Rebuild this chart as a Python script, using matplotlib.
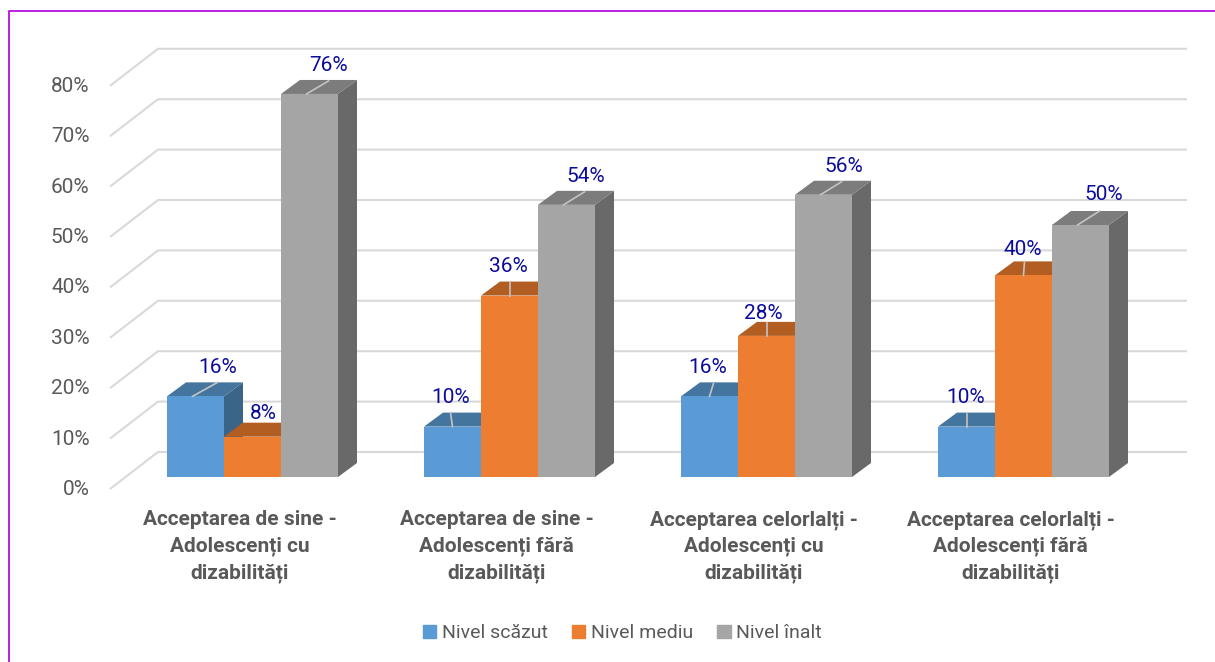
import matplotlib
matplotlib.use("Agg")
import matplotlib.pyplot as plt
from matplotlib.patches import Patch

plt.rcParams["font.family"] = ["Roboto", "Liberation Sans", "DejaVu Sans"]

categories = ["Acceptarea de sine -\nAdolescenți cu\ndizabilități",
              "Acceptarea de sine -\nAdolescenți fără\ndizabilități",
              "Acceptarea celorlalți -\nAdolescenți cu\ndizabilități",
              "Acceptarea celorlalți -\nAdolescenți fără\ndizabilități"]
series = ["Nivel scăzut", "Nivel mediu", "Nivel înalt"]
nivel_scazut = [16, 10, 16, 10]
nivel_mediu = [8, 36, 28, 40]
nivel_inalt = [76, 54, 56, 50]
yticks = [0, 10, 20, 30, 40, 50, 60, 70, 80]

values = [nivel_scazut, nivel_mediu, nivel_inalt]
front = ["#5b9bd5", "#ed7d31", "#a5a5a5"]
top = ["#44759f", "#b25d22", "#7c7c7c"]
side = ["#3b6489", "#99501d", "#696969"]

# one x unit = distance between groups, y unit = one percent
XU, YU = 257.0, 5.04
W, H = 1215, 662
X0, Y0 = 252.5, 477


def px(x, y):
    return (x - X0) / XU, (Y0 - y) / YU


fig = plt.figure(figsize=(W / 100, H / 100), dpi=100)
ax = fig.add_axes([0, 0, 1, 1])
ax.set_xlim(px(0, 0)[0], px(W, 0)[0])
ax.set_ylim(px(0, H)[1], px(0, 0)[1])
ax.axis("off")

# frame, only top and left are visible
ax.plot(*zip(px(9, H), px(9, 10.5), px(W, 10.5)), color="#b30fdc", lw=1.3, zorder=1)

# gridlines, back wall + left wall
x_back, x_front, x_right = px(158, 0)[0], px(110, 0)[0], px(1187, 0)[0]
back_dy, front_dy = 25 / YU, -12 / YU
for t in yticks:
    ax.plot([x_front, x_back, x_right], [t + front_dy, t + back_dy, t + back_dy],
            color="#d9d9d9", lw=1.5, zorder=1, solid_capstyle="butt", solid_joinstyle="miter")
    ax.text(px(89.5, 0)[0], t + front_dy - 0.1, f"{t}%", ha="right", va="center",
            fontsize=15, color="#595959")

bw = 57 / XU
dx, dy = 19 / XU, 14 / YU
# label offsets from the bar's top centre, in pixels
label_off = [[(22, 29), (11, 23), (19, 28)],
             [(-2, 29), (-1, 29), (19, 28)],
             [(-2, 29), (-3, 22), (20, 28)],
             [(-1, 29), (-1, 26), (23, 31)]]
leader_off = [[(22, 14), None, (19, 13)],
              [(-2, 14), (0, 14), (18, 13)],
              [(4, 13), (0, 13), (18, 13)],
              [(0, 13), (1, 14), (19, 14)]]
for g, cat in enumerate(categories):
    for s in range(3):
        v = values[s][g]
        c = g + (s - 1) * bw
        l, r = c - bw / 2, c + bw / 2
        z = 2 + s
        ax.fill([r, r + dx, r + dx, r], [0, dy, v + dy, v], color=side[s], lw=0, zorder=z)
        ax.fill([l, l + dx, r + dx, r], [v, v + dy, v + dy, v], color=top[s], lw=0, zorder=z)
        ax.bar(c, v, bw, color=front[s], lw=0, zorder=z + 0.5)
    for s in range(3):
        v = values[s][g]
        c = g + (s - 1) * bw
        if leader_off[g][s]:
            ox, oy = leader_off[g][s]
            ax.plot([c - 3 / XU if ox > 5 else c, c + ox / XU], [v, v + oy / YU],
                    color="#c4c4c4", lw=1.2, zorder=7)
        ox, oy = label_off[g][s]
        ax.text(c + ox / XU, v + oy / YU, f"{v}%", ha="center", va="center",
                fontsize=15, color="#0b0b9c", zorder=8)
    ax.text(g - 13 / XU, px(0, 546.5)[1], cat, ha="center", va="center", fontsize=15,
            fontweight="bold", color="#595959", linespacing=1.46)

handles = [Patch(color=c) for c in front]
ax.legend(handles, series, loc="center", bbox_to_anchor=(622.5 / W, 1 - 633 / H), ncol=3,
          frameon=False, fontsize=14, labelcolor="#595959", handlelength=0.67,
          handleheight=0.67, handletextpad=0.3, columnspacing=1.25)

fig.savefig("out.png", dpi=100)
print("saved out.png")
